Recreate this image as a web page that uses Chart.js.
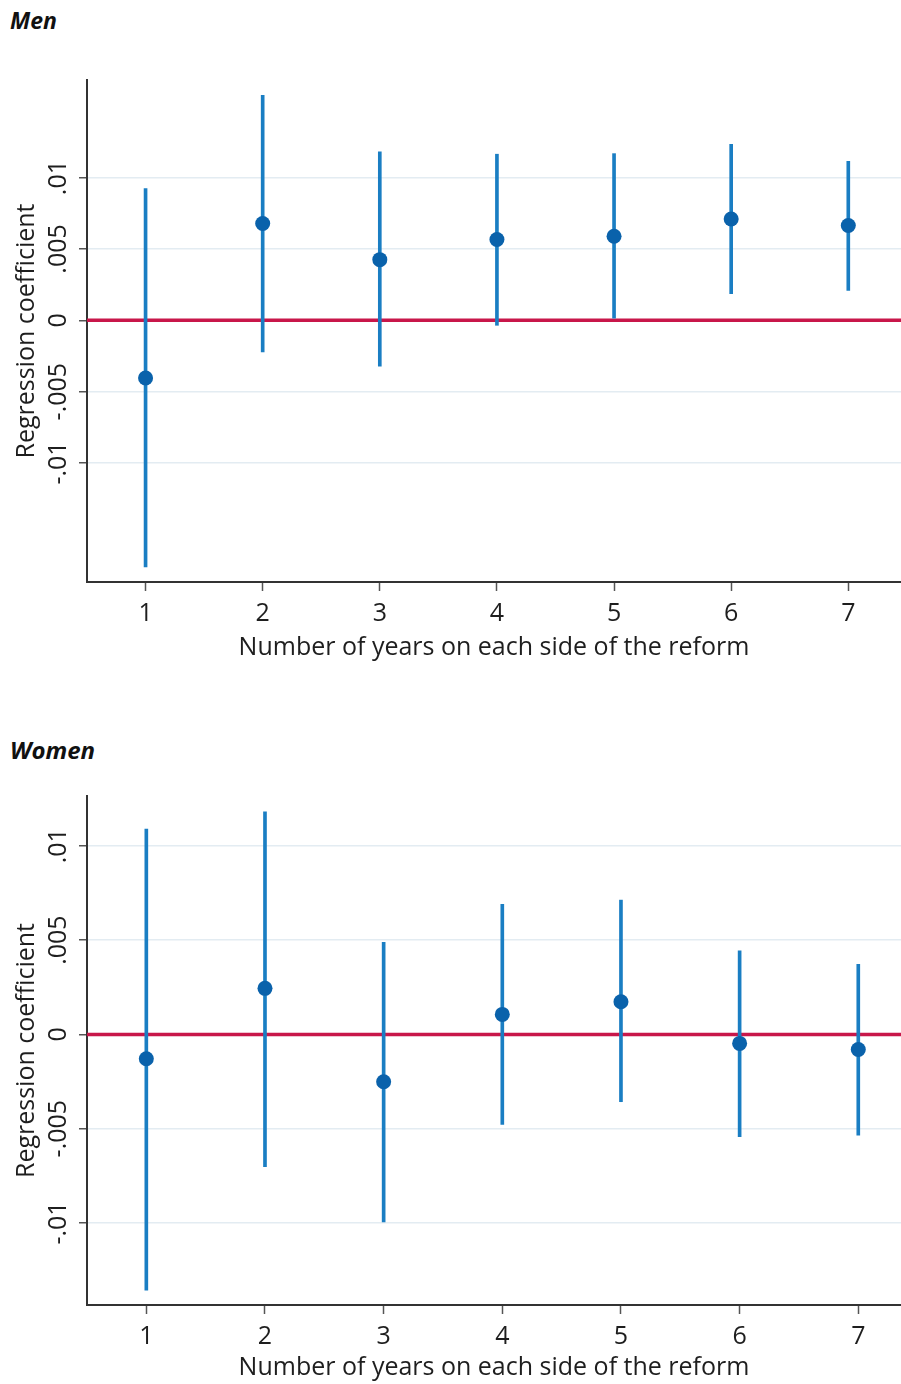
<!DOCTYPE html>
<html>
<head>
<meta charset="utf-8">
<script src="https://cdn.jsdelivr.net/npm/chart.js@4.4.1/dist/chart.umd.min.js"></script>
<style>
  html, body { margin: 0; padding: 0; background: #fff; }
  body { width: 901px; height: 1384px; position: relative; overflow: hidden; font-family: "Open Sans", sans-serif; }
  .panel-title { position: absolute; left: 10px; font-weight: bold; font-style: italic; color: #111; line-height: 28px; }
  canvas { position: absolute; left: 0; }
</style>
</head>
<body>
<div class="panel-title" style="top:6px;font-size:23px">Men</div>
<canvas id="men" width="901" height="664" style="top:0"></canvas>
<div class="panel-title" style="top:736px;font-size:24px">Women</div>
<canvas id="women" width="901" height="684" style="top:700px"></canvas>
<script>
// Years on each side of the reform (x axis)
const years = [1, 2, 3, 4, 5, 6, 7];
// Y tick positions and their Stata-style labels
const yTickValues = [-0.01, -0.005, 0, 0.005, 0.01];
const yTickLabels = ['-.01', '-.005', '0', '.005', '.01'];

// Men: point estimates and confidence bounds
const menCoef  = [-0.00404, 0.00678, 0.00425, 0.00566, 0.00589, 0.00710, 0.00664];
const menLower = [-0.01729, -0.00222, -0.00322, -0.00035, 0.00015, 0.00187, 0.00210];
const menUpper = [0.00923, 0.01577, 0.01180, 0.01164, 0.01168, 0.01234, 0.01114];

// Women: point estimates and confidence bounds
const womenCoef  = [-0.00129, 0.00244, -0.00251, 0.00106, 0.00173, -0.00048, -0.00080];
const womenLower = [-0.01356, -0.00702, -0.00994, -0.00477, -0.00357, -0.00543, -0.00534];
const womenUpper = [0.01089, 0.01180, 0.00488, 0.00689, 0.00712, 0.00443, 0.00371];

const FONT = '"Open Sans", sans-serif';
const FONT_SIZE = 25;
const TEXT = '#1e1e1e';
const AXIS = '#333333';
const GRID = '#e3ecf2';
const BAR = '#1a7ec3';
const DOT = '#0a62ab';
const ZERO_LINE = '#c8174a';

// Horizontal reference line at zero, drawn beneath the estimates
const zeroLinePlugin = {
  id: 'zeroLine',
  beforeDatasetsDraw(chart) {
    const { ctx, chartArea: a, scales: { y } } = chart;
    const py = y.getPixelForValue(0);
    ctx.save();
    ctx.strokeStyle = ZERO_LINE;
    ctx.lineWidth = 3.5;
    ctx.beginPath();
    ctx.moveTo(a.left, py);
    ctx.lineTo(a.right, py);
    ctx.stroke();
    ctx.restore();
  }
};

// Vertical (rotated) y tick labels
const yLabelPlugin = {
  id: 'yLabels',
  afterDraw(chart) {
    const { ctx, scales: { y } } = chart;
    ctx.save();
    ctx.fillStyle = TEXT;
    ctx.font = FONT_SIZE + 'px ' + FONT;
    ctx.textAlign = 'center';
    ctx.textBaseline = 'middle';
    yTickValues.forEach((v, i) => {
      const py = y.getPixelForValue(v);
      ctx.save();
      ctx.translate(59, py);
      ctx.rotate(-Math.PI / 2);
      ctx.fillText(yTickLabels[i], 0, 0);
      ctx.restore();
    });
    ctx.restore();
  }
};

function makePanel(id, coef, lower, upper, cfg) {
  new Chart(document.getElementById(id), {
    type: 'bar',
    data: {
      datasets: [
        {
          type: 'scatter',
          data: years.map((x, i) => ({ x, y: coef[i] })),
          pointRadius: 7.5,
          pointBackgroundColor: DOT,
          pointBorderWidth: 0,
          order: 1
        },
        {
          type: 'bar',
          data: years.map((x, i) => ({ x, y: [lower[i], upper[i]] })),
          backgroundColor: BAR,
          borderWidth: 0,
          barThickness: 3,
          order: 2
        }
      ]
    },
    options: {
      responsive: false,
      animation: false,
      layout: { autoPadding: false, padding: { top: cfg.top, left: 0, right: 0, bottom: 0 } },
      plugins: { legend: { display: false }, tooltip: { enabled: false }, title: { display: false } },
      scales: {
        x: {
          type: 'linear',
          min: 0.5,
          max: cfg.xMax,
          offset: false,
          afterBuildTicks: s => { s.ticks = years.map(v => ({ value: v })); },
          afterFit: s => { s.height = cfg.xHeight; s.paddingLeft = 0; s.paddingRight = 0; },
          grid: { offset: false, drawOnChartArea: false, drawTicks: true, tickLength: 9, tickWidth: 1.5, tickColor: '#555' },
          border: { display: true, color: AXIS, width: 2 },
          ticks: { color: TEXT, font: { family: FONT, size: FONT_SIZE }, padding: cfg.tickPad, maxRotation: 0, autoSkip: false, callback: v => String(v) },
          title: { display: true, text: 'Number of years on each side of the reform', color: TEXT, font: { family: FONT, size: FONT_SIZE }, padding: { top: 0, bottom: 1 } }
        },
        y: {
          type: 'linear',
          min: cfg.yMin,
          max: cfg.yMax,
          afterBuildTicks: s => { s.ticks = yTickValues.map(v => ({ value: v })); },
          afterFit: s => { s.width = 87; },
          grid: { color: GRID, lineWidth: 1.5, drawTicks: true, tickLength: 8, tickWidth: 1.5, tickColor: '#555' },
          border: { display: true, color: AXIS, width: 2 },
          ticks: { display: false },
          title: { display: true, text: 'Regression coefficient', color: TEXT, font: { family: FONT, size: FONT_SIZE }, padding: { top: 12, bottom: 0 } }
        }
      }
    },
    plugins: [zeroLinePlugin, yLabelPlugin]
  });
}

makePanel('men', menCoef, menLower, menUpper, { top: 80, xHeight: 82, tickPad: 8, xMax: 7.45, yMin: -0.01834, yMax: 0.01684 });
makePanel('women', womenCoef, womenLower, womenUpper, { top: 96, xHeight: 79, tickPad: 8, xMax: 7.36, yMin: -0.01435, yMax: 0.01264 });
</script>
</body>
</html>
